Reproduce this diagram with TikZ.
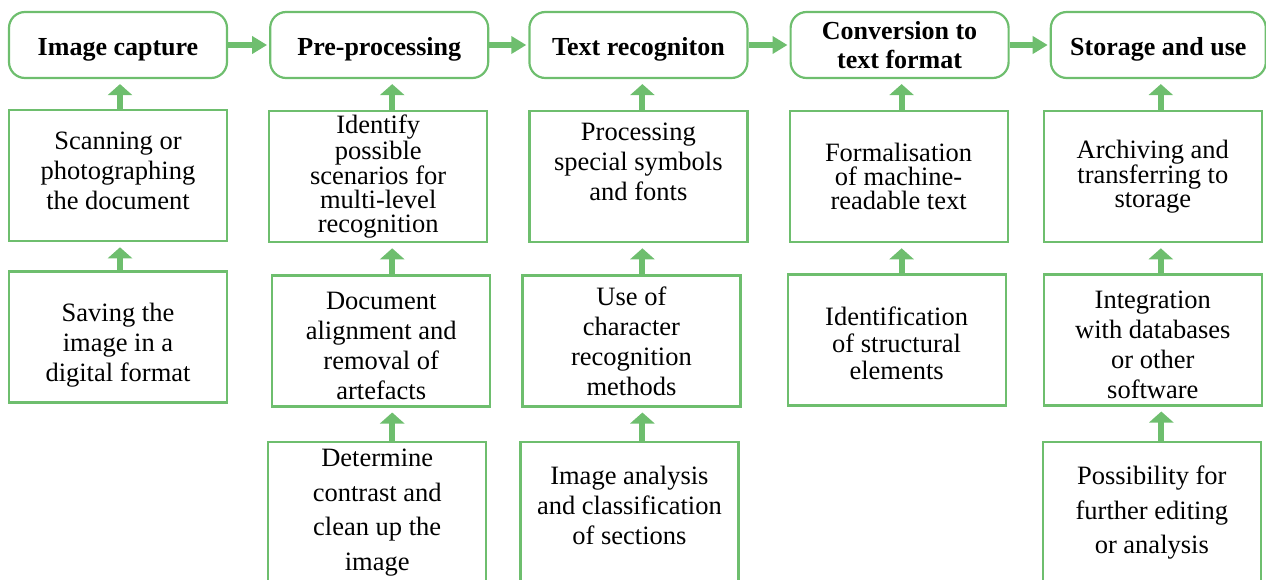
\documentclass[tikz,border=0pt]{standalone}
\usepackage{fontspec}
\setmainfont{Liberation Serif}
\usetikzlibrary{positioning, arrows.meta}
\definecolor{ocrgreen}{RGB}{110,190,110}
\tikzset{
every node/.style={align=center, font=\fontsize{26.5}{30}\selectfont}, % body text of the boxes
}

\begin{document}
\begin{tikzpicture}[x=1pt,y=-1pt,node distance=30pt]
\tikzstyle{head}=[rectangle,rounded corners=16pt,line width=2.2pt,draw=ocrgreen,minimum width=218pt,minimum height=66pt,inner sep=2pt,font=\fontsize{26}{29}\selectfont\bfseries]
\tikzstyle{headone}=[head,text height=26pt,text depth=6pt]
\tikzstyle{stepbox}=[rectangle,line width=2.2pt,draw=ocrgreen,minimum width=218pt,minimum height=131pt,inner sep=2pt]
\tikzstyle{lastbox}=[stepbox,minimum height=142pt]
\tikzstyle{tight}=[font=\fontsize{26.5}{24}\selectfont]
\tikzstyle{loose}=[font=\fontsize{26.5}{34.5}\selectfont]
\tikzstyle{flow}=[draw=ocrgreen,line width=6pt,-{Triangle[length=15pt,width=17pt]},shorten >=2pt]
\tikzstyle{feed}=[draw=ocrgreen,line width=6pt,-{Triangle[length=11pt,width=24pt]},shorten >=5pt]
\useasboundingbox (0,0) rectangle (1266,579);
% main stages
\node [headone] (capture) at (118,45) {Image capture};
\node [headone] (prep) [right=41pt of capture] {Pre-processing};
\node [headone] (recog) [right=39pt of prep] {Text recogniton};
\node [head] (conv) [right=41pt of recog] {Conversion to\\text format};
\node [headone,minimum width=215pt] (store) [right=40pt of conv] {Storage and use};
\draw [flow] (capture) -- (prep);
\draw [flow] (prep) -- (recog);
\draw [flow] (recog) -- (conv);
\draw [flow] (conv) -- (store);
% image capture
\node [stepbox] (scan) [below=30pt of capture] {Scanning or\\photographing\\the document\\[-20pt]\mbox{}};
\node [stepbox] (save) [below=28pt of scan] {\mbox{}\\[4pt]Saving the\\image in a\\digital format};
\draw [feed] ([xshift=2pt]scan.north) -- ([xshift=2pt]scan.north |- capture.south);
\draw [feed] ([xshift=2pt]save.north) -- ([xshift=2pt]save.north |- scan.south);
% pre-processing
\node [stepbox,tight] (ident) [below=31pt of prep, xshift=-1pt] {Identify\\possible\\scenarios for\\multi-level\\recognition};
\node [stepbox] (align) [below=31pt of ident, xshift=3pt] {\mbox{}\\[-2pt]Document\\alignment and\\removal of\\artefacts};
\node [lastbox,loose] (contrast) [below=33pt of align, xshift=-4pt] {Determine\\contrast and\\clean up the\\image};
\draw [feed] ([xshift=14pt]ident.north) -- ([xshift=14pt]ident.north |- prep.south);
\draw [feed] ([xshift=11pt]align.north) -- ([xshift=11pt]align.north |- ident.south);
\draw [feed] ([xshift=15pt]contrast.north) -- ([xshift=15pt]contrast.north |- align.south);
% text recognition
\node [stepbox] (special) [below=31pt of recog] {Processing\\special symbols\\and fonts\\\mbox{}};
\node [stepbox] (method) [below=31pt of special, xshift=-7pt] {Use of\\character\\recognition\\methods};
\node [lastbox] (analysis) [below=33pt of method, xshift=-2pt] {Image analysis\\and classification\\of sections\\[-16pt]\mbox{}};
\draw [feed] ([xshift=4pt]special.north) -- ([xshift=4pt]special.north |- recog.south);
\draw [feed] ([xshift=11pt]method.north) -- ([xshift=11pt]method.north |- special.south);
\draw [feed] ([xshift=13pt]analysis.north) -- ([xshift=13pt]analysis.north |- method.south);
% conversion
\node [stepbox,tight] (formal) [below=31pt of conv, xshift=-1pt] {Formalisation\\of machine-\\readable text};
\node [stepbox,font=\fontsize{26.5}{27}\selectfont] (struct) [below=30pt of formal, xshift=-2pt] {\mbox{}\\[-1pt]Identification\\of structural\\elements};
\draw [feed] ([xshift=3pt]formal.north) -- ([xshift=3pt]formal.north |- conv.south);
\draw [feed] ([xshift=5pt]struct.north) -- ([xshift=5pt]struct.north |- formal.south);
% storage
\node [stepbox,tight] (archive) [below=31pt of store, xshift=-5.5pt] {Archiving and\\transferring to\\storage};
\node [stepbox] (integr) [below=30pt of archive] {\mbox{}\\[-2pt]Integration\\with databases\\or other\\software};
\node [lastbox,loose] (further) [below=34pt of integr, xshift=-1pt] {Possibility for\\further editing\\or analysis};
\draw [feed] ([xshift=8pt]archive.north) -- ([xshift=8pt]archive.north |- store.south);
\draw [feed] ([xshift=8pt]integr.north) -- ([xshift=8pt]integr.north |- archive.south);
\draw [feed] ([xshift=9.5pt]further.north) -- ([xshift=9.5pt]further.north |- integr.south);
\end{tikzpicture}
\end{document}
